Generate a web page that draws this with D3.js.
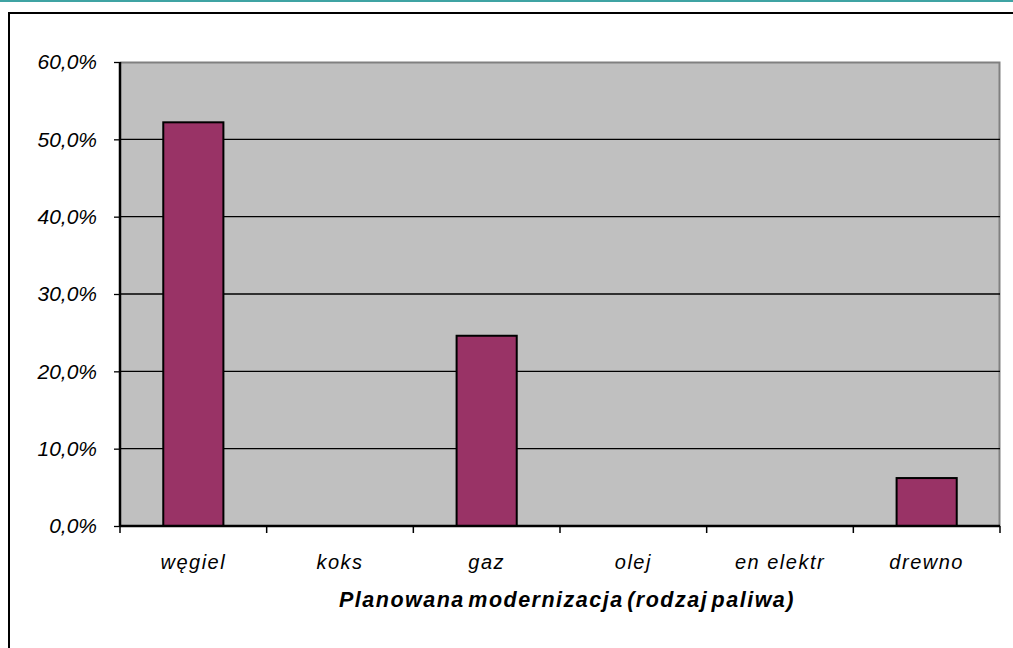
<!DOCTYPE html>
<html>
<head>
<meta charset="utf-8">
<script src="https://cdn.jsdelivr.net/npm/d3@7"></script>
<style>
  body { margin: 0; background: #fff; }
  svg { display: block; font-family: "Liberation Sans", Arial, sans-serif; }
</style>
</head>
<body>
<svg id="chart" width="1013" height="648"></svg>
<script>
// dane z wykresu
const categories = ["węgiel", "koks", "gaz", "olej", "en elektr", "drewno"];
const values = [52.2, 0, 24.6, 0, 0, 6.2];
const yTicks = [0, 10, 20, 30, 40, 50, 60];
const xTitle = "Planowana modernizacja (rodzaj paliwa)";

const svg = d3.select("#chart");
const margin = { top: 62, left: 120, right: 13, bottom: 122 };
const W = 1013, H = 648;
const plotW = W - margin.left - margin.right; // 880
const plotH = H - margin.top - margin.bottom; // 464

// teal line + outer frame
svg.append("line").attr("x1", 0).attr("x2", W).attr("y1", 1).attr("y2", 1)
  .attr("stroke", "#3fa3a3").attr("stroke-width", 2);
svg.append("path").attr("d", `M9,${H + 5} V13 H${W + 5}`)
  .attr("fill", "none").attr("stroke", "#000").attr("stroke-width", 2);

const g = svg.append("g").attr("transform", `translate(${margin.left},${margin.top})`);

const x = d3.scaleBand().domain(categories).range([0, plotW]).padding(0);
const y = d3.scaleLinear().domain([0, 60]).range([plotH, 0]);

// tło obszaru wykresu
g.append("rect").attr("x", 0).attr("y", 0).attr("width", plotW).attr("height", plotH)
  .attr("fill", "#c0c0c0");
g.append("path").attr("d", `M0,0.5 H${plotW - 0.5} V${plotH}`)
  .attr("fill", "none").attr("stroke", "#808080").attr("stroke-width", 2);

// linie siatki
g.selectAll(".grid").data(yTicks.filter(t => t > 0 && t < 60)).enter()
  .append("line")
  .attr("x1", 0).attr("x2", plotW)
  .attr("y1", d => y(d)).attr("y2", d => y(d))
  .attr("stroke", "#000").attr("stroke-width", 1.3);

// słupki
const bw = x.bandwidth() * 0.41;
g.selectAll(".bar").data(categories.map((c, i) => ({ c, v: values[i] })).filter(d => d.v > 0))
  .enter().append("rect")
  .attr("x", d => x(d.c) + (x.bandwidth() - bw) / 2)
  .attr("y", d => y(d.v))
  .attr("width", bw)
  .attr("height", d => y(0) - y(d.v))
  .attr("fill", "#993366")
  .attr("stroke", "#000").attr("stroke-width", 2);

// oś Y
const yAxis = g.append("g")
  .call(d3.axisLeft(y).tickValues(yTicks).tickSize(6).tickPadding(17)
    .tickFormat(d => d3.format(".1f")(d).replace(".", ",") + "%"));
yAxis.select(".domain").attr("stroke", "#000").attr("stroke-width", 2.5)
  .attr("d", `M0,0V${plotH}`);
yAxis.selectAll(".tick line").attr("stroke", "#000").attr("stroke-width", 1.3);
yAxis.selectAll("text").attr("font-size", 21).attr("font-style", "italic")
  .attr("fill", "#000").attr("font-family", "Liberation Sans, Arial, sans-serif");

// oś X
const xAxis = g.append("g").attr("transform", `translate(0,${plotH})`)
  .call(d3.axisBottom(x).tickSize(0).tickPadding(29));
xAxis.select(".domain").attr("stroke", "#000").attr("stroke-width", 2.5)
  .attr("d", `M0,0H${plotW}`);
xAxis.selectAll("text").attr("font-size", 20).attr("font-style", "italic")
  .attr("fill", "#000").attr("font-family", "Liberation Sans, Arial, sans-serif")
  .attr("letter-spacing", 1.5);
// znaczniki między kategoriami
xAxis.selectAll(".sep").data(d3.range(categories.length + 1)).enter()
  .append("line")
  .attr("x1", i => i * x.step()).attr("x2", i => i * x.step())
  .attr("y1", 0).attr("y2", 7)
  .attr("stroke", "#000").attr("stroke-width", 1.5);

// tytuł osi X
svg.append("text")
  .attr("x", 567).attr("y", 607)
  .attr("text-anchor", "middle")
  .attr("font-size", 21.5).attr("font-weight", "bold").attr("font-style", "italic")
  .attr("letter-spacing", 1.5).attr("word-spacing", -4)
  .text(xTitle);
</script>
</body>
</html>
